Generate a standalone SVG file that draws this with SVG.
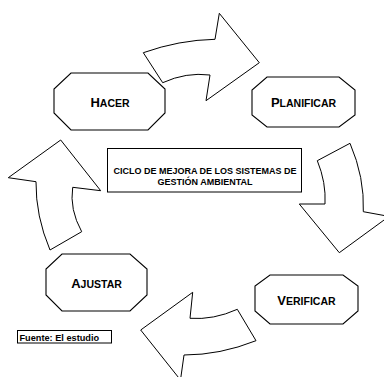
<svg xmlns="http://www.w3.org/2000/svg" width="384" height="377" viewBox="0 0 384 377">
<style>
.oct{fill:#fff;stroke:#000;stroke-width:1.1}
.arr{fill:#fff;stroke:#000;stroke-width:1;stroke-linejoin:miter}
.box{fill:#fff;stroke:#000;stroke-width:1}
text{font-family:"Liberation Sans",Arial,sans-serif;font-weight:bold;fill:#000}
.lbl{font-size:10.5px;text-anchor:middle}
.big{font-size:13px}
.ctr{font-size:9px;text-anchor:middle}
.src{font-size:9.2px}
</style>
<rect width="384" height="377" fill="#fff"/>
<g id="connectors">
<path class="arr" d="M143.3,52.7 Q179,40 215,39.3 L219.3,13.3 L259.3,62.7 L206,100.7 L210,75 Q186,72 162.7,82.7 Z"/>
<path class="arr" d="M350,143.3 Q364.7,177.5 363.3,211.7 L389,216.4 L339.3,252.7 L299.3,204 L325,204 Q326.2,182.4 317.3,160.7 Z"/>
<path class="arr" d="M256,340.7 Q220,355 184,355 L180.5,380 L140.7,330 L192.7,292.3 L190,318.3 Q213.7,320 237.3,309.3 Z"/>
<path class="arr" d="M50,250 Q35.6,216 36,181.7 L8.3,177.7 L60.7,140 L100.7,190.7 L72.7,187.3 Q69.4,209.5 81.7,231.7 Z"/>
</g>
<g id="hacer">
<polygon class="oct" points="71,73 148,73 165,89 165,113 148,130 71,130 54,113 54,89"/>
<text class="lbl" x="110" y="106.5"><tspan class="big">H</tspan>ACER</text>
</g>
<g id="planificar">
<polygon class="oct" points="267,77 339,77 355,90 355,115 339,127 267,127 252,115 252,90"/>
<text class="lbl" x="303.5" y="106.5"><tspan class="big">P</tspan>LANIFICAR</text>
</g>
<g id="verificar">
<polygon class="oct" points="270,275 343,275 358,286 358,311 343,324 270,324 255,311 255,286"/>
<text class="lbl" x="306.5" y="304.5"><tspan class="big">V</tspan>ERIFICAR</text>
</g>
<g id="ajustar">
<polygon class="oct" points="62,254 130,254 147,269 147,295 130,311 62,311 46,295 46,269"/>
<text class="lbl" x="96.5" y="288"><tspan class="big">A</tspan>JUSTAR</text>
</g>
<g id="centro">
<rect class="box" x="107.5" y="148.5" width="194" height="43.5"/>
<text class="ctr" x="205" y="173.5">CICLO DE MEJORA DE LOS SISTEMAS DE</text>
<text class="ctr" x="205" y="185">GESTIÓN AMBIENTAL</text>
</g>
<g id="fuente">
<rect class="box" x="17.5" y="330.5" width="94" height="12.5"/>
<text class="src" x="19.5" y="340.5">Fuente: El estudio</text>
</g>
</svg>
